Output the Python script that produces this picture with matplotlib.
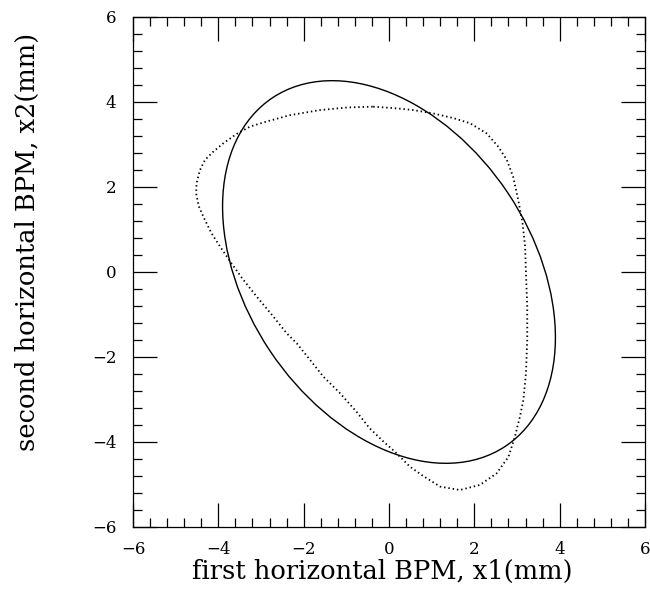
import matplotlib
matplotlib.use("Agg")
import matplotlib.pyplot as plt
from matplotlib.patches import Ellipse
from matplotlib.ticker import MultipleLocator

# solid curve: fitted ellipse (centre, full axes, tilt in degrees)
ELLIPSE_CENTER = (0.0, 0.0)
ELLIPSE_WIDTH = 9.85
ELLIPSE_HEIGHT = 6.70
ELLIPSE_ANGLE = 123.6

# dotted curve: measured orbit, traced clockwise from the top
DOT_X = [-0.37, 0.18, 0.57, 1.04, 1.51, 1.90, 2.29, 2.56, 2.76, 2.91, 3.03,
         3.13, 3.19, 3.21, 3.24, 3.24, 3.21, 3.15, 3.07, 2.95, 2.80, 2.52,
         2.13, 1.66, 1.20, 0.80, 0.49, 0.14, -0.13, -0.45, -0.76, -1.15,
         -1.54, -1.85, -2.16, -2.40, -2.71, -3.10, -3.41, -3.69, -3.96,
         -4.16, -4.35, -4.46, -4.52, -4.51, -4.43, -4.31, -4.12, -3.88,
         -3.57, -3.26, -2.87, -2.32, -1.62, -0.99, -0.37]
DOT_Y = [3.89, 3.85, 3.81, 3.73, 3.62, 3.50, 3.26, 2.95, 2.64, 2.24, 1.69,
         1.15, 0.60, -0.03, -0.82, -1.60, -2.38, -3.01, -3.40, -3.88, -4.35,
         -4.74, -5.01, -5.13, -5.05, -4.80, -4.58, -4.23, -3.99, -3.68,
         -3.29, -2.85, -2.46, -2.07, -1.68, -1.44, -1.05, -0.58, -0.19, 0.20,
         0.60, 0.91, 1.30, 1.55, 1.85, 2.09, 2.40, 2.64, 2.83, 3.03, 3.25,
         3.42, 3.54, 3.69, 3.81, 3.87, 3.89]

XLIM = (-6, 6)
YLIM = (-6, 6)

plt.rcParams["font.family"] = "DejaVu Serif"

fig = plt.figure(figsize=(6.5, 5.92), dpi=100)
ax = fig.add_axes([0.2046, 0.1098, 0.7877, 0.8615])

ax.add_patch(Ellipse(ELLIPSE_CENTER, ELLIPSE_WIDTH, ELLIPSE_HEIGHT,
                     angle=ELLIPSE_ANGLE, fill=False, color="black", lw=1.0))
ax.plot(DOT_X, DOT_Y, color="black", lw=1.3, linestyle=(0, (0.8, 1.6)))

ax.set_xlim(*XLIM)
ax.set_ylim(*YLIM)
ax.xaxis.set_major_locator(MultipleLocator(2))
ax.yaxis.set_major_locator(MultipleLocator(2))
ax.xaxis.set_minor_locator(MultipleLocator(0.4))
ax.yaxis.set_minor_locator(MultipleLocator(0.4))
ax.tick_params(which="both", direction="in", top=True, right=True,
               width=0.9, labelsize=12)
ax.tick_params(axis="x", pad=10)
ax.tick_params(axis="y", pad=12)
ax.tick_params(which="major", length=17)
ax.tick_params(which="minor", length=6.5)
for s in ax.spines.values():
    s.set_linewidth(0.9)

ax.set_xlabel("first horizontal BPM, x1(mm)", fontsize=18.5, va="center")
ax.xaxis.set_label_coords(0.487, -0.088)
ax.set_ylabel("second horizontal BPM, x2(mm)", fontsize=18.5, va="center")
ax.yaxis.set_label_coords(-0.207, 0.559)

fig.savefig("out.png", dpi=100)
